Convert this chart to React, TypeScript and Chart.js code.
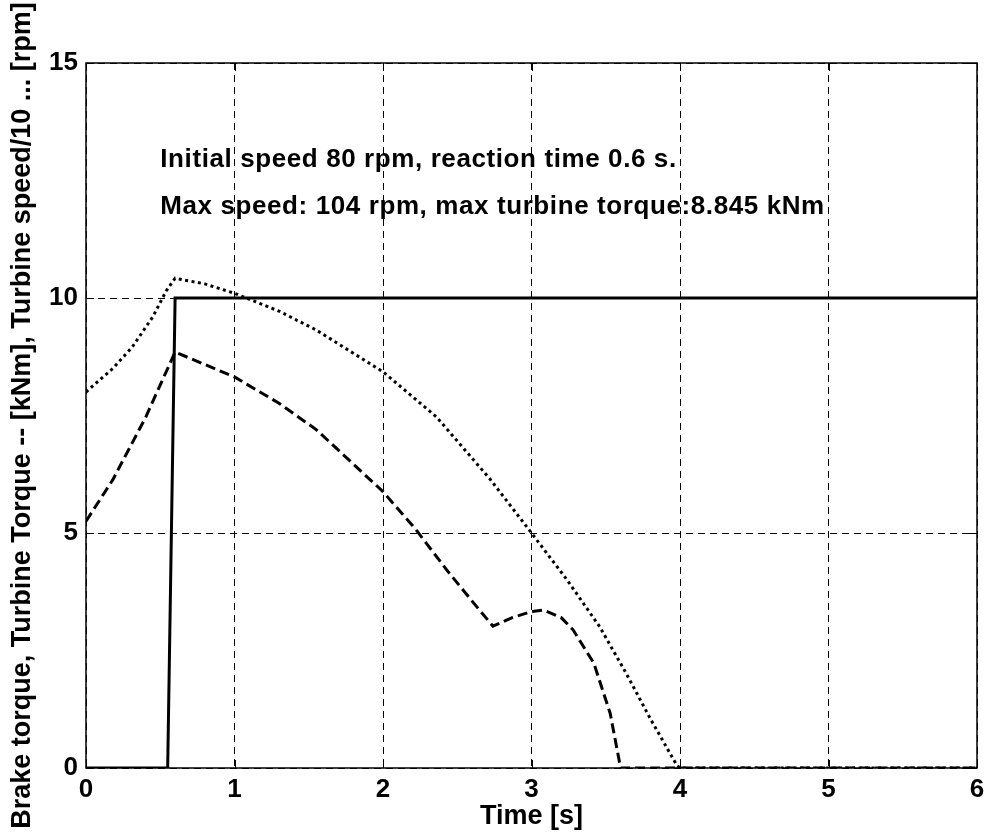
import React, { useEffect, useRef } from "react";
import { Chart, registerables } from "chart.js";

Chart.register(...registerables);

const brakeTime = [0, 0.55, 0.6, 6];
const brakeTorque = [0, 0, 10, 10];

const speedTime = [0, 0.18, 0.31, 0.45, 0.54, 0.6, 0.8, 1.0, 1.3, 1.55, 2.0, 2.36, 2.72, 3.0, 3.24, 3.46, 3.64, 3.8, 3.98, 4.0, 6];
const speedDiv10 = [8.0, 8.5, 8.95, 9.6, 10.15, 10.42, 10.3, 10.1, 9.72, 9.32, 8.43, 7.47, 6.15, 5.0, 4.0, 3.0, 2.0, 1.05, 0.05, 0, 0];

const torqueTime = [0, 0.18, 0.4, 0.5, 0.6, 1.0, 1.3, 1.55, 2.0, 2.22, 2.43, 2.6, 2.74, 2.87, 3.0, 3.08, 3.2, 3.28, 3.42, 3.53, 3.6, 6];
const turbineTorque = [5.25, 6.13, 7.45, 8.15, 8.85, 8.32, 7.76, 7.2, 5.88, 5.08, 4.21, 3.55, 3.02, 3.2, 3.33, 3.36, 3.2, 2.94, 2.23, 1.16, 0, 0];

const annotations = [
  { x: 0.5, y: 13, text: "Initial speed 80 rpm, reaction time 0.6 s." },
  { x: 0.5, y: 12, text: "Max speed: 104 rpm, max turbine torque:8.845 kNm" },
];

const xTitle = "Time [s]";
const yTitle = "Brake torque, Turbine Torque -- [kNm], Turbine speed/10 ... [rpm]";

const FONT = "'Liberation Sans', Arial, Helvetica, sans-serif";

const zip = (xs: number[], ys: number[]) => xs.map((x, i) => ({ x, y: ys[i] }));

const boxPlugin = {
  id: "boxPlugin",
  afterDatasetsDraw(chart: any) {
    const { ctx, chartArea, scales } = chart;
    const { left, right, top, bottom } = chartArea;
    ctx.save();
    ctx.strokeStyle = "#000";
    ctx.lineWidth = 1.5;
    ctx.setLineDash([]);
    ctx.strokeRect(left, top, right - left, bottom - top);
    ctx.lineWidth = 1;
    const tl = 8;
    scales.x.ticks.forEach((t: any) => {
      const px = Math.round(scales.x.getPixelForValue(t.value)) + 0.5;
      ctx.beginPath();
      ctx.moveTo(px, bottom);
      ctx.lineTo(px, bottom - tl);
      ctx.moveTo(px, top);
      ctx.lineTo(px, top + tl);
      ctx.stroke();
    });
    scales.y.ticks.forEach((t: any) => {
      const py = Math.round(scales.y.getPixelForValue(t.value)) + 0.5;
      ctx.beginPath();
      ctx.moveTo(left, py);
      ctx.lineTo(left + tl, py);
      ctx.moveTo(right, py);
      ctx.lineTo(right - tl, py);
      ctx.stroke();
    });
    ctx.fillStyle = "#000";
    ctx.font = `bold 26px ${FONT}`;
    ctx.textBaseline = "middle";
    ctx.textAlign = "left";
    try { (ctx as any).letterSpacing = "0.6px"; } catch (e) {}
    annotations.forEach((a) => {
      ctx.fillText(a.text, scales.x.getPixelForValue(a.x), scales.y.getPixelForValue(a.y) + 3);
    });
    ctx.restore();
  },
};

export default function App() {
  const ref = useRef<HTMLCanvasElement>(null);
  useEffect(() => {
    document.body.style.margin = "0";
    const chart = new Chart(ref.current!, {
      type: "line",
      data: {
        datasets: [
          {
            label: "Brake torque",
            data: zip(brakeTime, brakeTorque),
            borderColor: "#000",
            borderWidth: 3,
            pointRadius: 0,
            tension: 0,
          },
          {
            label: "Turbine torque",
            data: zip(torqueTime, turbineTorque),
            borderColor: "#000",
            borderWidth: 3,
            borderDash: [10, 5],
            pointRadius: 0,
            tension: 0,
          },
          {
            label: "Turbine speed/10",
            data: zip(speedTime, speedDiv10),
            borderColor: "#000",
            borderWidth: 3,
            borderDash: [3, 3.5],
            pointRadius: 0,
            tension: 0,
          },
        ],
      },
      options: {
        animation: false,
        responsive: true,
        maintainAspectRatio: false,
        layout: { padding: { left: 0, top: 63, right: 10, bottom: 0 } },
        plugins: { legend: { display: false }, tooltip: { enabled: false } },
        scales: {
          x: {
            type: "linear",
            min: 0,
            max: 6,
            ticks: { stepSize: 1, color: "#000", padding: 6, font: { family: FONT, size: 26, weight: "bold" } },
            grid: { color: "#000", lineWidth: 1, drawTicks: false },
            border: { display: false, dash: [7, 5] },
            title: { display: true, text: xTitle, color: "#000", padding: { top: 0, bottom: 7 }, font: { family: FONT, size: 27, weight: "bold" } },
            afterFit: (s: any) => { s.height = 72; s.paddingLeft = 0; s.paddingRight = 0; },
          },
          y: {
            type: "linear",
            min: 0,
            max: 15,
            ticks: { stepSize: 5, color: "#000", padding: 8, font: { family: FONT, size: 26, weight: "bold" } },
            grid: { color: "#000", lineWidth: 1, drawTicks: false },
            border: { display: false, dash: [7, 5] },
            title: { display: true, text: yTitle, color: "#000", padding: { top: 6, bottom: 0 }, font: { family: FONT, size: 27, weight: "bold" } },
            afterFit: (s: any) => { s.width = 86; s.paddingTop = 0; s.paddingBottom = 0; },
          },
        },
      },
      plugins: [boxPlugin],
    });
    return () => chart.destroy();
  }, []);
  return (
    <div style={{ width: 987, height: 840, position: "relative" }}>
      <canvas ref={ref} />
    </div>
  );
}
